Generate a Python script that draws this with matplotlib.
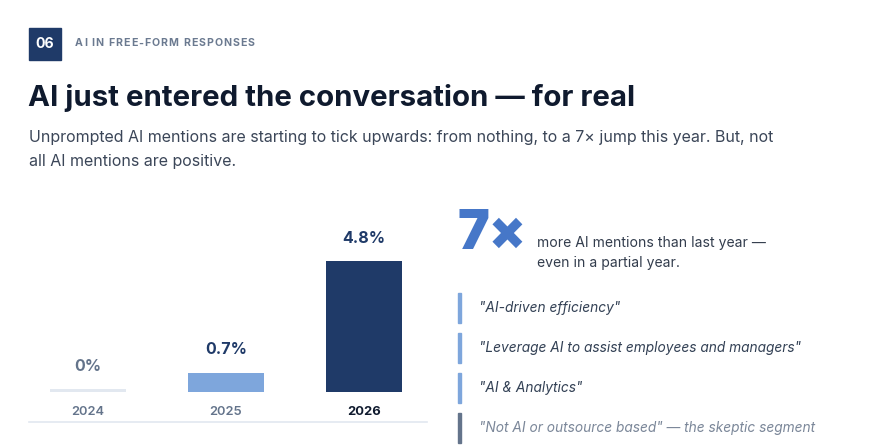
import matplotlib
matplotlib.use("Agg")
import matplotlib.pyplot as plt
from matplotlib.patches import Rectangle

plt.rcParams['font.family'] = ['Inter', 'DejaVu Sans']

# data
years = ['2024', '2025', '2026']
share = [0.0, 0.7, 4.8]
share_labels = ['0%', '0.7%', '4.8%']
bar_colors = ['#e2e8f0', '#7ea6dc', '#1f3a68']
label_colors = ['#64748b', '#1f3a68', '#1f3a68']
year_colors = ['#64748b', '#64748b', '#0f1a2e']
quotes = ['"AI-driven efficiency"',
          '"Leverage AI to assist employees and managers"',
          '"AI & Analytics"',
          '"Not AI or outsource based" \u2014 the skeptic segment']
quote_colors = ['#334155', '#334155', '#334155', '#7b8799']
quote_bar_colors = ['#7ea6dc', '#7ea6dc', '#7ea6dc', '#64748b']

W, H = 890, 447
fig = plt.figure(figsize=(W / 100, H / 100), dpi=100)
fig.patch.set_facecolor('white')
renderer = fig.canvas.get_renderer()


def fx(x):
    return x / W


def fy(y):
    return 1 - y / H


def text_w(s, **kw):
    t = fig.text(0, 0, s, **kw)
    w = t.get_window_extent(renderer).width
    t.remove()
    return w


def spaced_text(x0, y, s, spacing, **kw):
    # no letter-spacing in matplotlib: place each char at its prefix width + tracking
    ref = text_w('H', **kw)
    for i, ch in enumerate(s):
        if ch == ' ':
            continue
        off = text_w(s[:i] + 'H', **kw) - ref if i else 0
        fig.text(fx(x0 + off + i * spacing), fy(y), ch, ha='left', va='center', **kw)


# header badge
fig.patches.append(Rectangle((fx(29), fy(60)), 32 / W, 32 / H, transform=fig.transFigure,
                             color='#1f3a68', zorder=1))
fig.text(fx(45), fy(44), '06', color='white', fontsize=10.2, fontweight='bold',
         ha='center', va='center')
spaced_text(75, 43.5, 'AI IN FREE-FORM RESPONSES', 1.0, color='#6b7a90', fontsize=7.6,
            fontweight='bold')

fig.text(fx(28), fy(106), 'AI just entered the conversation \u2014 for real', color='#0f1a2e',
         fontsize=21.2, fontweight='bold', ha='left', va='baseline')
fig.text(fx(29), fy(142), 'Unprompted AI mentions are starting to tick upwards: from nothing, to a 7\u00d7 jump this year. But, not',
         color='#3b4658', fontsize=11.5, ha='left', va='baseline')
fig.text(fx(29), fy(166), 'all AI mentions are positive.',
         color='#3b4658', fontsize=11.5, ha='left', va='baseline')

# bar chart
ax_l, ax_r, ax_t, ax_b = 29, 427, 220, 422
ax = fig.add_axes([fx(ax_l), fy(ax_b), (ax_r - ax_l) / W, (ax_b - ax_t) / H])
px_per_unit = 131 / 4.8
ax.set_ylim(-30 / px_per_unit, (392 - ax_t) / px_per_unit)
ax.set_xlim(-59 / 138, (427 - 88) / 138)
x = list(range(len(years)))
heights = [max(v, 3 / px_per_unit) for v in share]
ax.bar(x, heights, width=76 / 138, color=bar_colors, zorder=2)
for i in x:
    ax.annotate(share_labels[i], (i, heights[i]), xytext=(0, 16.5), textcoords='offset points',
                ha='center', va='center', fontsize=11.5, fontweight='bold', color=label_colors[i])
    ax.annotate(years[i], (i, 0), xytext=(0, -14.5), textcoords='offset points',
                ha='center', va='center', fontsize=9.3,
                fontweight='bold' if i == 2 else 'semibold', color=year_colors[i])
for s in ['top', 'right', 'left']:
    ax.spines[s].set_visible(False)
ax.spines['bottom'].set_color('#e2e8f0')
ax.spines['bottom'].set_linewidth(1.2)
ax.set_xticks([])
ax.set_yticks([])
ax.patch.set_alpha(0)

# right panel
fig.text(fx(458), fy(249), '7\u00d7', color='#4677c8', fontsize=38.5, fontweight='black',
         ha='left', va='baseline')
fig.text(fx(537), fy(243), 'more AI mentions than last year \u2014', color='#333d4d',
         fontsize=10.1, ha='left', va='center')
fig.text(fx(537), fy(263), 'even in a partial year.', color='#333d4d',
         fontsize=10.1, ha='left', va='center')

for k, q in enumerate(quotes):
    yc = 308 + 40 * k
    fig.patches.append(Rectangle((fx(458), fy(yc + 15)), 3 / W, 30 / H, transform=fig.transFigure,
                                 color=quote_bar_colors[k]))
    fig.text(fx(479), fy(yc), q, color=quote_colors[k], fontsize=9.9, fontstyle='italic',
             ha='left', va='center')

fig.savefig('out.png', dpi=100, facecolor='white')
